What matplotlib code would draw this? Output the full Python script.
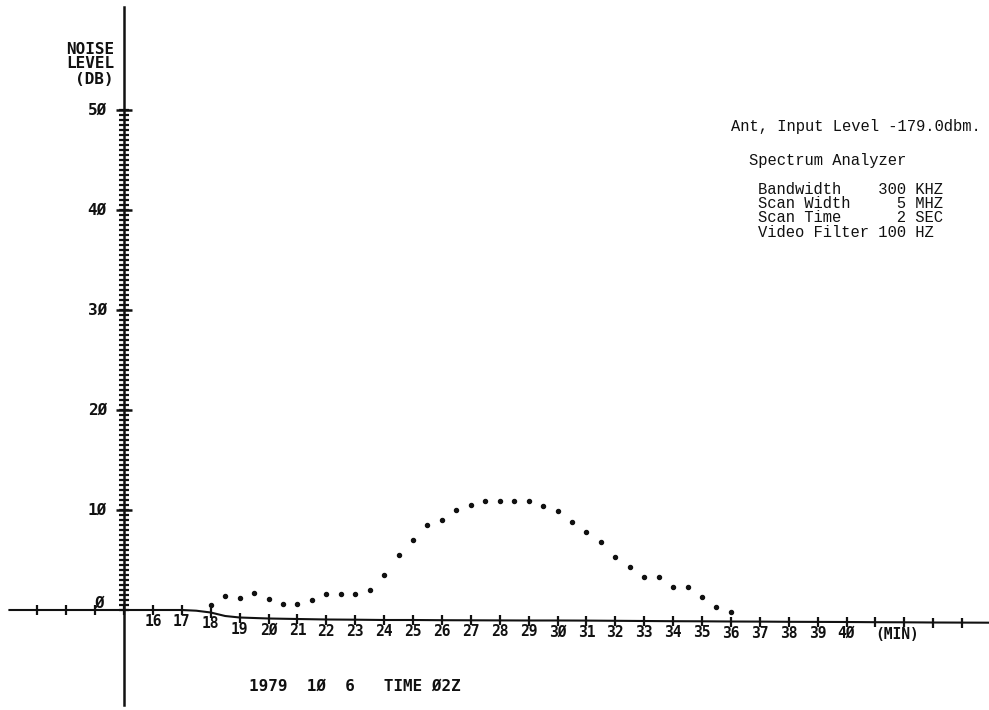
import numpy as np
import matplotlib
matplotlib.use("Agg")
import matplotlib.pyplot as plt

# ---- data ------------------------------------------------------------------
# noise level samples (dB) every half minute
t_noise = [18.0, 18.5, 19.0, 19.5, 20.0, 20.5, 21.0, 21.5, 22.0, 22.5, 23.0, 23.5,
           24.0, 24.5, 25.0, 25.5, 26.0, 26.5, 27.0, 27.5, 28.0, 28.5, 29.0, 29.5,
           30.0, 30.5, 31.0, 31.5, 32.0, 32.5, 33.0, 33.5, 34.0, 34.5, 35.0, 35.5, 36.0]
noise_db = [0.5, 1.4, 1.2, 1.7, 1.1, 0.6, 0.6, 1.0, 1.6, 1.6, 1.6, 2.0,
            3.5, 5.5, 7.0, 8.5, 9.0, 10.0, 10.5, 10.9, 10.9, 10.9, 10.9, 10.4,
            9.9, 8.8, 7.8, 6.8, 5.3, 4.3, 3.3, 3.3, 2.3, 2.3, 1.3, 0.3, -0.2]

# drifting reference baseline (time axis) drawn by the plotter
t_base = [11, 12, 13, 14, 15, 16, 17, 17.5, 18, 18.5, 19, 20, 21, 22, 23, 24, 25, 26,
          27, 28, 29, 30, 31, 32, 33, 34, 35, 36, 37, 38, 39, 40, 41, 42, 43, 44, 45]
base_db = [0.0, 0.0, 0.0, 0.0, 0.0, 0.0, 0.0, -0.07, -0.25, -0.6, -0.75, -0.85, -0.9,
           -0.95, -0.97, -1.0, -1.0, -1.02, -1.03, -1.04, -1.05, -1.05, -1.06, -1.08,
           -1.1, -1.12, -1.13, -1.15, -1.16, -1.18, -1.19, -1.2, -1.22, -1.23, -1.25,
           -1.26, -1.27]

x_labels = list(range(16, 41))
y_major = [0, 10, 20, 30, 40, 50]
y_labels = ["Ø", "1Ø", "2Ø", "3Ø", "4Ø", "5Ø"]

info_lines = ["Bandwidth    300 KHZ",
              "Scan Width     5 MHZ",
              "Scan Time      2 SEC",
              "Video Filter 100 HZ"]

# ---- layout helpers (pixel -> data) ----------------------------------------
def px2m(px):
    return 15 + (px - 124) / 28.9

def py2db(py):
    return (610 - py) / 10.0

INK = "#111111"
BLOCK = dict(family="DejaVu Sans Mono", weight="bold", color=INK)
TYPE = dict(family="Liberation Mono", color=INK)

fig = plt.figure(figsize=(9.89, 7.10), dpi=100)
ax = fig.add_axes([0, 0, 1, 1])
ax.set_xlim(px2m(0), px2m(989))
ax.set_ylim(py2db(710), py2db(0))
ax.axis("off")

# time axis / baseline with tick crosses at every minute
ax.plot(t_base, base_db, color=INK, lw=1.5, solid_capstyle="butt")
tb = np.array(t_base)
bd = np.array(base_db)
whole = (tb % 1 == 0) & (tb > 11) & (tb < 45)
ax.plot(tb[whole], bd[whole], ls="none", marker="|", ms=7, mew=1.6, color=INK)

# vertical dB axis with dense ticks
ax.plot([15, 15], [py2db(705), py2db(7)], color=INK, lw=1.8)
minor = np.arange(0, 50.01, 0.5)
ax.hlines(minor, 15 - 0.17, 15 + 0.17, color=INK, lw=1.6)
ax.hlines(y_major[1:], 15 - 0.26, 15 + 0.26, color=INK, lw=1.8)

# noise dots
ax.plot(t_noise, noise_db, ls="none", marker="o", ms=2.9, color=INK)

# y tick labels
for v, lab in zip(y_major, y_labels):
    if v == 0:
        ax.text(px2m(104), py2db(603), lab, ha="right", va="center", fontsize=11.5, **BLOCK)
    else:
        ax.text(px2m(107), v, lab, ha="right", va="center", fontsize=11.5, **BLOCK)

# y label
for py, s in zip([49, 64, 79.5], ["NOISE", "LEVEL", "(DB)"]):
    ax.text(px2m(114), py2db(py), s, ha="right", va="center", fontsize=11.5, **BLOCK)

# x tick labels following the baseline
for m in x_labels:
    yb = bd[tb == m][0]
    ax.text(m, yb - 0.4, str(m).replace("0", "Ø"), ha="center", va="top", fontsize=10.5, **BLOCK)
ax.text(px2m(897), bd[tb == 42][0] - 0.45, "(MIN)", ha="center", va="top", fontsize=10.5, **BLOCK)

# date / time stamp
ax.text(px2m(249), py2db(686), "1979  1Ø  6   TIME Ø2Z", ha="left", va="center",
        fontsize=11.5, **BLOCK)

# instrument notes
ax.text(px2m(731), py2db(126), "Ant, Input Level -179.0dbm.", ha="left", va="center",
        fontsize=11.2, **TYPE)
ax.text(px2m(749), py2db(160), "Spectrum Analyzer", ha="left", va="center",
        fontsize=11.2, **TYPE)
for i, s in enumerate(info_lines):
    ax.text(px2m(758), py2db(189 + 14.4 * i), s, ha="left", va="center",
            fontsize=11.2, **TYPE)

fig.savefig("out.png", dpi=100, facecolor="white")
